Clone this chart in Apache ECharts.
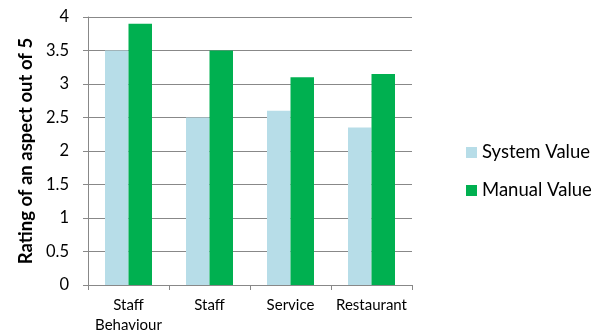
<!DOCTYPE html>
<html><head><meta charset="utf-8">
<script src="https://cdn.jsdelivr.net/npm/echarts@6/dist/echarts.min.js"></script>
<style>html,body{margin:0;padding:0;background:#fff}#c{width:595px;height:335px}</style>
</head><body><div id="c"></div>
<script>
const categories = ["Staff\nBehaviour", "Staff", "Service", "Restaurant"];
const systemValues = [3.5, 2.5, 2.6, 2.35];
const manualValues = [3.9, 3.5, 3.1, 3.15];
const seriesNames = ["System Value", "Manual Value"];
const yTicks = [0, 0.5, 1, 1.5, 2, 2.5, 3, 3.5, 4];
const yAxisTitle = "Rating of an aspect out of 5";

const FONT = "Lato, 'Open Sans', sans-serif";
const chart = echarts.init(document.getElementById('c'), null, {renderer: 'canvas'});
chart.setOption({
  animation: false,
  textStyle: {fontFamily: FONT},
  grid: {left: 88, right: 183, top: 17, bottom: 50, containLabel: false},
  legend: {
    orient: 'vertical', left: 461, top: 138, itemGap: 19,
    itemWidth: 11, itemHeight: 11, icon: 'rect',
    textStyle: {fontSize: 18.5, color: '#000', fontFamily: FONT},
    data: seriesNames
  },
  xAxis: {
    type: 'category', data: categories,
    axisLine: {lineStyle: {color: '#888', width: 1}},
    axisTick: {show: true, alignWithLabel: false, length: 5, lineStyle: {color: '#888'}},
    axisLabel: {color: '#000', fontSize: 15, lineHeight: 20, margin: 10, interval: 0, fontFamily: FONT}
  },
  yAxis: {
    type: 'value', min: yTicks[0], max: yTicks[yTicks.length-1], interval: 0.5,
    name: yAxisTitle, nameLocation: 'middle', nameRotate: 90, nameGap: 51,
    nameTextStyle: {fontSize: 18.5, fontWeight: 'bold', color: '#000', fontFamily: FONT},
    axisLine: {show: true, lineStyle: {color: '#888'}},
    axisTick: {show: true, length: 5, inside: false, lineStyle: {color: '#888'}},
    axisLabel: {color: '#000', fontSize: 16.5, margin: 19, fontFamily: FONT},
    splitLine: {lineStyle: {color: '#888', width: 1}}
  },
  series: [
    {name: seriesNames[0], type: 'bar', data: systemValues, itemStyle: {color: '#B7DDE8'},
     barWidth: 23.5, barGap: '0%'},
    {name: seriesNames[1], type: 'bar', data: manualValues, itemStyle: {color: '#00B050'},
     barWidth: 23.5, barGap: '0%'}
  ]
});
</script></body></html>
